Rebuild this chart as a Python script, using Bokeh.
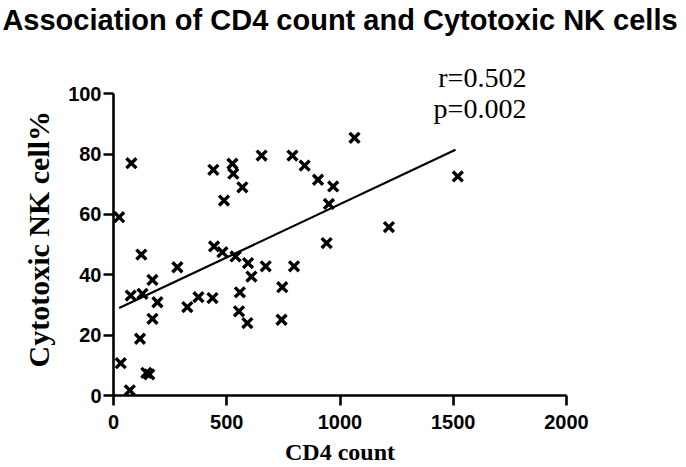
from bokeh.plotting import figure
from bokeh.models import Range1d, Label, ColumnDataSource, FixedTicker, Title
from bokeh.embed import file_html
from bokeh.resources import INLINE

cd4_count = [25, 32, 72, 79, 76, 128, 123, 117, 145, 158, 172, 172, 194, 282, 326,
             375, 437, 441, 444, 481, 488, 525, 529, 539, 569, 558, 554, 591, 594, 609,
             654, 672, 745, 742, 790, 797, 844, 903, 941, 951, 970, 1064, 1216, 1520]
nk_pct = [59.1, 10.7, 1.7, 77.0, 33.1, 33.7, 46.7, 18.8, 7.5, 7.0, 38.3, 25.4, 30.9, 42.5, 29.3,
          32.6, 32.3, 74.8, 49.4, 47.5, 64.6, 76.8, 73.5, 46.1, 69.0, 34.2, 27.9, 24.0, 43.9, 39.4,
          79.5, 42.8, 35.9, 25.1, 79.5, 42.8, 76.2, 71.5, 50.5, 63.5, 69.3, 85.4, 55.8, 72.6]
fit_x = [25, 1510]
fit_y = [29.0, 81.4]
x_ticks = [0, 500, 1000, 1500, 2000]
y_ticks = [0, 20, 40, 60, 80, 100]
stats_text = ["r=0.502", "p=0.002"]

p = figure(width=686, height=467, output_backend="svg", toolbar_location=None,
           x_range=Range1d(0, 2000), y_range=Range1d(0, 119.3),
           min_border_left=113, min_border_right=120, min_border_top=35, min_border_bottom=72)
p.outline_line_color = None
p.grid.visible = False
p.background_fill_color = "white"
p.border_fill_color = "white"

p.title.text = "Association of CD4 count and Cytotoxic NK cells"
p.title.text_font = "Liberation Sans"
p.title.text_font_style = "bold"
p.title.text_font_size = "29px"
p.title.align = "center"
p.title.text_color = "black"
p.title.standoff = 0

src = ColumnDataSource(dict(x=cd4_count, y=nk_pct))
p.scatter("x", "y", source=src, marker="x", size=14, line_width=3.4, line_color="black")
p.line(fit_x, fit_y, line_color="black", line_width=2.2)

for ax in (p.xaxis[0], p.yaxis[0]):
    ax.axis_line_width = 2.6
    ax.axis_line_color = "black"
    ax.major_tick_line_width = 2.6
    ax.major_tick_line_color = "black"
    ax.major_tick_out = 10
    ax.major_tick_in = 0
    ax.minor_tick_line_color = None
    ax.major_label_text_font = "Liberation Sans"
    ax.major_label_text_font_style = "bold"
    ax.major_label_text_font_size = "20px"
    ax.major_label_text_color = "black"

p.xaxis.ticker = FixedTicker(ticks=x_ticks)
p.yaxis.ticker = FixedTicker(ticks=y_ticks)
p.yaxis.bounds = (0, 100)
p.xaxis.axis_label = "CD4 count"
p.xaxis.axis_label_text_font = "Liberation Serif"
p.xaxis.axis_label_text_font_style = "bold"
p.xaxis.axis_label_text_font_size = "24px"
p.xaxis.axis_label_text_color = "black"
p.xaxis.major_label_standoff = 9
p.xaxis.axis_label_standoff = 7
p.yaxis.major_label_standoff = 2

ylab = Title(text="Cytotoxic NK cell%", align="left", offset=28, standoff=22,
             text_font="Liberation Serif", text_font_style="bold", text_font_size="30px",
             text_color="black")
p.add_layout(ylab, "left")

for txt, yy in zip(stats_text, [105.5, 95.1]):
    p.add_layout(Label(x=1823, y=yy, text=txt, text_align="right", text_baseline="alphabetic",
                       text_font="Liberation Serif", text_font_size="28px", text_color="black"))

open("out.html", "w").write(file_html(p, INLINE))
